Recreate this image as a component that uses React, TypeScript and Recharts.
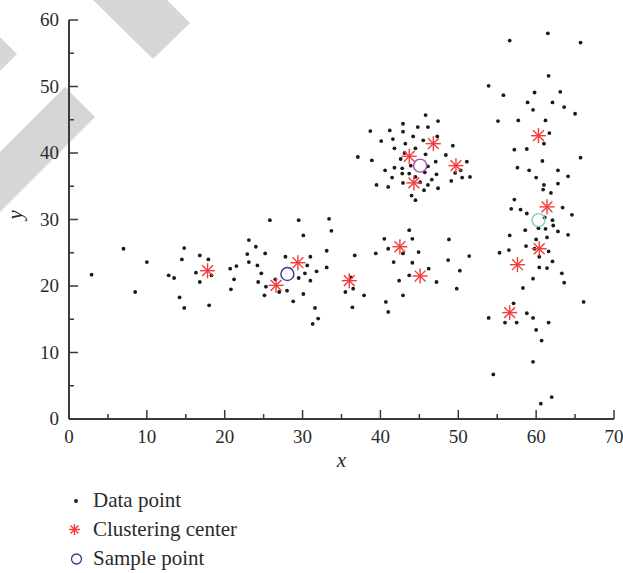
import React from "react";
import { ScatterChart, Scatter, XAxis, YAxis } from "recharts";

// black data points [x, y]
const dataPoints: [number, number][] = [
  // left group
  [2.9, 21.7], [7.0, 25.6], [8.5, 19.1], [10.0, 23.6], [12.8, 21.6], [13.5, 21.2],
  [14.2, 18.3], [14.5, 24.0], [14.8, 25.7], [14.8, 16.7], [16.3, 22.0], [16.8, 24.6],
  [16.8, 20.6], [17.9, 24.0], [18.3, 21.6], [18.0, 17.1],
  // 20..34
  [20.7, 22.6], [21.5, 23.0], [21.2, 21.0], [20.8, 19.5], [23.1, 26.9], [24.0, 25.9],
  [25.2, 24.9], [22.9, 24.8], [23.1, 23.6], [24.2, 23.1], [24.7, 21.9], [24.3, 20.6],
  [25.3, 19.9], [25.1, 18.6], [25.8, 29.9], [29.5, 29.9], [30.1, 27.6], [33.4, 30.1],
  [33.7, 28.3], [27.8, 24.4], [26.5, 21.0], [27.0, 19.1], [28.0, 19.3], [28.8, 17.7],
  [29.5, 21.2], [30.3, 21.9], [30.6, 23.1], [31.0, 24.4], [31.0, 20.8], [30.1, 18.8],
  [31.8, 22.2], [31.6, 16.7], [32.0, 15.1], [31.3, 14.3], [33.1, 25.3], [33.1, 22.8],
  // 35..52 lower
  [36.7, 24.6], [36.2, 21.3], [35.5, 19.1], [36.5, 19.6], [37.9, 18.6], [36.4, 16.8],
  [39.4, 24.9], [40.5, 27.1], [41.0, 25.6], [43.7, 28.4], [44.1, 27.1], [42.9, 24.9],
  [44.9, 25.1], [41.7, 23.6], [44.1, 23.5], [46.2, 22.6], [43.7, 21.6], [42.4, 20.8],
  [47.2, 20.6], [42.9, 18.6], [40.7, 17.6], [41.0, 16.1], [48.8, 27.0], [51.4, 24.5],
  [48.7, 23.9], [50.2, 22.3], [49.8, 19.6],
  // upper cluster
  [45.8, 45.7], [47.4, 44.8], [42.9, 44.4], [38.7, 43.3], [41.2, 43.4], [42.9, 43.2],
  [44.8, 43.9], [46.1, 43.9], [41.6, 42.1], [44.2, 42.5], [47.3, 42.5], [40.1, 41.8],
  [43.2, 41.4], [45.5, 41.9], [41.8, 40.7], [44.5, 40.7], [49.3, 41.1], [37.1, 39.4],
  [38.9, 38.9], [42.6, 39.1], [45.8, 39.8], [48.4, 39.7], [40.6, 37.4], [41.8, 37.8],
  [42.8, 37.7], [43.9, 38.1], [47.1, 38.7], [51.1, 38.7], [50.3, 37.4], [49.6, 37.0],
  [51.5, 36.4], [50.5, 36.3], [49.1, 35.8], [46.1, 38.0], [45.7, 37.1], [47.2, 36.8],
  [46.6, 36.0], [41.5, 36.3], [42.8, 36.9], [43.7, 36.9], [39.5, 35.2], [41.0, 34.9],
  [42.9, 35.5], [44.5, 36.4], [45.1, 35.6], [46.1, 35.2], [45.6, 34.4], [47.4, 34.7],
  [44.0, 33.6], [44.5, 32.9], [43.1, 40.0],
  // right column
  [61.5, 58.0], [56.6, 56.9], [65.7, 56.6], [61.6, 51.6], [53.9, 50.1], [55.8, 48.7],
  [59.8, 49.1], [63.1, 49.2], [58.9, 47.6], [62.1, 47.6], [59.6, 46.5], [63.6, 46.9],
  [65.0, 45.9], [55.1, 44.8], [57.7, 44.9], [61.2, 44.9], [61.7, 43.0], [61.0, 41.4],
  [57.2, 40.5], [58.8, 40.6], [65.7, 39.3], [60.8, 38.8], [57.6, 37.8], [59.1, 37.4],
  [62.8, 37.4], [64.1, 36.5], [60.0, 36.3], [62.8, 35.4], [61.0, 35.2], [60.9, 34.5],
  [61.9, 34.0], [57.2, 33.0], [56.8, 31.6], [58.0, 31.5], [58.8, 30.9], [63.4, 31.8],
  [64.6, 30.7], [61.1, 30.3], [62.1, 29.9], [62.2, 29.1], [61.2, 28.6], [60.3, 28.7],
  [58.6, 28.4], [62.8, 28.2], [64.1, 27.7], [56.6, 27.6], [61.4, 27.3], [60.0, 27.0],
  [58.7, 26.0], [61.6, 25.2], [59.8, 25.6], [56.5, 25.4], [55.3, 25.0], [60.4, 24.4],
  [62.1, 23.7], [60.4, 22.8], [61.4, 22.7], [63.3, 21.9], [63.6, 20.5], [59.6, 21.1],
  [58.3, 19.7], [66.1, 17.6], [57.1, 17.4], [58.8, 15.9], [53.9, 15.2], [56.0, 14.5],
  [57.5, 14.5], [59.6, 15.2], [61.6, 14.5], [60.0, 13.4], [60.7, 11.8], [59.6, 8.6],
  [54.5, 6.7], [62.0, 3.3], [60.6, 2.3],
];

// red clustering centers
const clusterCenters: [number, number][] = [
  [17.8, 22.3], [26.6, 20.1], [29.4, 23.5], [36.0, 20.8], [42.5, 25.9], [45.1, 21.5],
  [43.7, 39.5], [46.8, 41.4], [44.3, 35.5], [49.7, 38.1],
  [60.3, 42.6], [61.4, 31.9], [60.4, 25.6], [57.6, 23.2], [56.6, 16.0],
];

// sample points (hollow circles)
const samplePoints: [number, number][] = [
  [28.05, 21.8], [45.1, 38.1], [60.3, 29.9],
];
const SAMPLE_COLORS = ["#3b3497", "#a452b0", "#7fcfcf"];

const xTicks = [0, 5, 10, 15, 20, 25, 30, 35, 40, 45, 50, 55, 60, 65, 70];
const yTicks = [0, 5, 10, 15, 20, 25, 30, 35, 40, 45, 50, 55, 60];

const legendLabels = ["Data point", "Clustering center", "Sample point"];

const toXY = (arr: [number, number][]) => arr.map(([x, y]) => ({ x, y }));

const FONT = "'Liberation Serif', 'Times New Roman', serif";
const AXIS_COLOR = "#3a3a3a";
const TEXT_COLOR = "#2b2b2b";
const TICK_GAP = 10;
const STAR_RED = "#f23b3b";

const Dot = (props: any) => <circle cx={props.cx} cy={props.cy} r={1.9} fill="#1a1a1a" />;

const Star = ({ cx, cy, r = 7.5 }: any) => {
  const d = r * 0.72;
  return (
    <g stroke={STAR_RED} strokeWidth={1.4} strokeLinecap="butt">
      <line x1={cx - r} y1={cy} x2={cx + r} y2={cy} />
      <line x1={cx} y1={cy - r} x2={cx} y2={cy + r} />
      <line x1={cx - d} y1={cy - d} x2={cx + d} y2={cy + d} />
      <line x1={cx - d} y1={cy + d} x2={cx + d} y2={cy - d} />
    </g>
  );
};

const ring = (color: string) => (props: any) =>
  <circle cx={props.cx} cy={props.cy} r={6.5} fill="none" stroke={color} strokeWidth={1.4} />;

const YTick = (props: any) => {
  const { x, y, payload } = props;
  const major = payload.value % 10 === 0;
  const ax = x + TICK_GAP;
  return (
    <g>
      <line x1={ax} x2={ax + (major ? 9 : 5)} y1={y} y2={y} stroke={AXIS_COLOR} strokeWidth={1.5} />
      {major && (
        <text x={x} y={y} dy="0.34em" textAnchor="end" fontFamily={FONT} fontSize={19} fill={TEXT_COLOR}>
          {payload.value}
        </text>
      )}
    </g>
  );
};

const XTick = (props: any) => {
  const { x, y, payload } = props;
  const major = payload.value % 10 === 0;
  const ay = y - TICK_GAP;
  return (
    <g>
      <line x1={x} x2={x} y1={ay} y2={ay - (major ? 9 : 5)} stroke={AXIS_COLOR} strokeWidth={1.5} />
      {major && (
        <text x={x} y={y} dy="0.72em" textAnchor="middle" fontFamily={FONT} fontSize={19} fill={TEXT_COLOR}>
          {payload.value}
        </text>
      )}
    </g>
  );
};

const ChartLegend = () => (
  <div style={{ position: "absolute", left: 68, top: 486, fontFamily: FONT, fontSize: 21, color: TEXT_COLOR }}>
    {legendLabels.map((label, i) => (
      <div key={label} style={{ display: "flex", alignItems: "center", height: 29 }}>
        <svg width={16} height={16} style={{ marginRight: 9 }}>
          {i === 0 && <circle cx={8} cy={8} r={1.9} fill="#1a1a1a" />}
          {i === 1 && <Star cx={6.5} cy={7.5} r={5.5} />}
          {i === 2 && <circle cx={8.5} cy={8} r={5} fill="none" stroke={SAMPLE_COLORS[0]} strokeWidth={1.3} />}
        </svg>
        <span style={{ lineHeight: "29px" }}>{label}</span>
      </div>
    ))}
  </div>
);

// journal watermark shapes behind the plot
const Watermark = () => (
  <svg width={623} height={573} style={{ position: "absolute", left: 0, top: 0 }}>
    <g fill="#d6d6d6">
      <polygon points="93,0 153,59 190,23 167,0" />
      <polygon points="65,87 95,117 0,212 0,152" />
      <polygon points="0,37 17,54 0,71" />
    </g>
  </svg>
);

export default function App() {
  return (
    <div style={{ position: "absolute", left: 0, top: 0, width: 623, height: 573, background: "#fff" }}>
      <Watermark />
      <div style={{ position: "absolute", left: 0, top: 0 }}>
        <ScatterChart width={623} height={573} margin={{ top: 20, right: 9, bottom: 94, left: 9 }}>
          <XAxis
            type="number"
            dataKey="x"
            domain={[0, 70]}
            ticks={xTicks}
            interval={0}
            height={60}
            tickSize={0}
            tickMargin={TICK_GAP}
            tick={(p: any) => <XTick {...p} />}
            axisLine={{ stroke: AXIS_COLOR, strokeWidth: 2 }}
            label={{ value: "x", position: "insideTop", offset: 33, fontFamily: FONT, fontSize: 21, fontStyle: "italic", fill: TEXT_COLOR }}
          />
          <YAxis
            type="number"
            dataKey="y"
            domain={[0, 60]}
            ticks={yTicks}
            interval={0}
            width={60}
            tickSize={0}
            tickMargin={TICK_GAP}
            tick={(p: any) => <YTick {...p} />}
            axisLine={{ stroke: AXIS_COLOR, strokeWidth: 2 }}
            label={{ value: "y", angle: -90, position: "insideLeft", offset: 6, fontFamily: FONT, fontSize: 21, fontStyle: "italic", fill: TEXT_COLOR }}
          />
          <Scatter name="Data point" data={toXY(dataPoints)} shape={Dot} isAnimationActive={false} />
          <Scatter name="Clustering center" data={toXY(clusterCenters)} shape={(p: any) => <Star cx={p.cx} cy={p.cy} />} isAnimationActive={false} />
          {samplePoints.map((pt, i) => (
            <Scatter key={i} name="Sample point" data={toXY([pt])} shape={ring(SAMPLE_COLORS[i])} isAnimationActive={false} />
          ))}
        </ScatterChart>
      </div>
      <ChartLegend />
    </div>
  );
}
